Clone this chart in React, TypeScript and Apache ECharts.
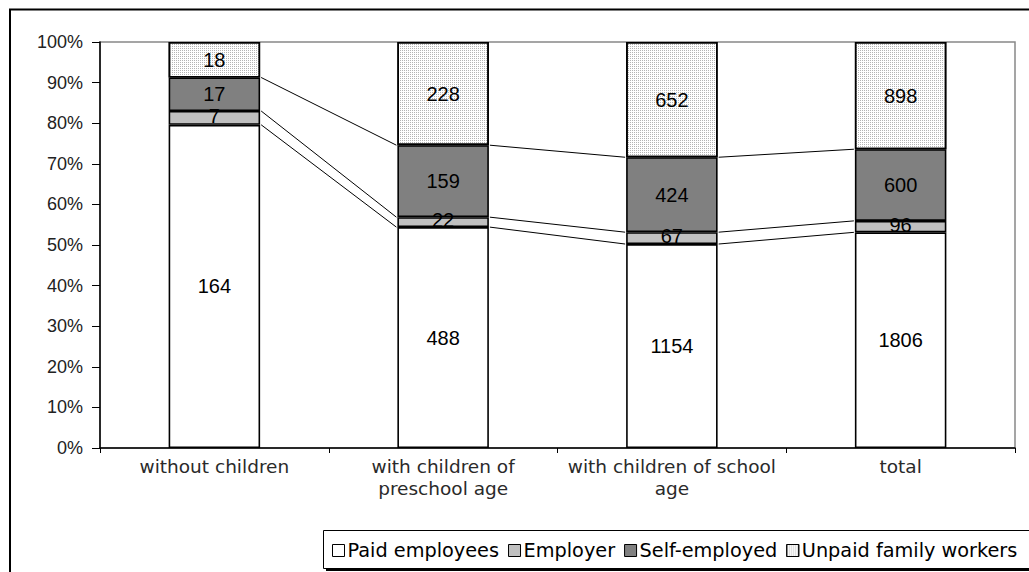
import React, { useEffect, useRef } from "react";
import * as echarts from "echarts";

const categories = [
  "without children",
  "with children of\npreschool age",
  "with children of school\nage",
  "total",
];
const seriesNames = ["Paid employees", "Employer", "Self-employed", "Unpaid family workers"];
const paidEmployees = [164, 488, 1154, 1806];
const employer = [7, 22, 67, 96];
const selfEmployed = [17, 159, 424, 600];
const unpaidFamily = [18, 228, 652, 898];

const counts = [paidEmployees, employer, selfEmployed, unpaidFamily];
const totals = categories.map((_, i) => counts.reduce((s, arr) => s + arr[i], 0));
const percents = counts.map((arr) => arr.map((v, i) => (v / totals[i]) * 100));
// cumulative tops of first three segments
const cum = [0, 1, 2].map((k) =>
  categories.map((_, i) => percents.slice(0, k + 1).reduce((s, arr) => s + arr[i], 0))
);

const fills = ["#ffffff", "#c0c0c0", "#808080", "#ffffff"];

export default function App() {
  const ref = useRef<HTMLDivElement>(null);
  useEffect(() => {
    const chart = echarts.init(ref.current!, null, { renderer: "svg" });
    const barSeries: any[] = seriesNames.map((name, s) => ({
      name,
      type: "bar",
      stack: "all",
      barWidth: "40%",
      data: percents[s],
      itemStyle: {
        color: fills[s],
        borderColor: "#000",
        borderWidth: 1.6,
        ...(s === 3
          ? {
              decal: {
                symbol: "rect",
                symbolSize: 1,
                dashArrayX: [1, 1],
                dashArrayY: [1, 1],
                color: "#b4b4b4",
                backgroundColor: "#ffffff",
                rotation: 0,
              },
            }
          : {}),
      },
      label: {
        show: s !== 1,
        position: "inside",
        fontFamily: "Liberation Sans",
        fontSize: 20,
        color: "#000",
        formatter: (p: any) => String(counts[s][p.dataIndex]),
      },
      emphasis: { disabled: true },
    }));

    const lineData = [0, 1, 2].map((i) => [
      i,
      cum[0][i],
      cum[1][i],
      cum[2][i],
      cum[0][i + 1],
      cum[1][i + 1],
      cum[2][i + 1],
    ]);

    const employerLabelData = categories.map((_, i) => [
      i,
      cum[0][i] + percents[1][i] / 2,
      employer[i],
    ]);

    const option: any = {
      animation: false,
      textStyle: { fontFamily: "Liberation Sans" },
      grid: {
        left: 100,
        right: 14,
        top: 42,
        bottom: 124,
        show: true,
        borderColor: "#888",
        borderWidth: 1.5,
      },
      xAxis: {
        type: "category",
        data: categories,
        axisLine: { lineStyle: { color: "#000", width: 1.5 } },
        axisTick: { show: true, length: 5, lineStyle: { color: "#000" } },
        axisLabel: {
          fontFamily: "DejaVu Sans",
          fontSize: 18.5,
          color: "#2a2a2a",
          lineHeight: 22,
          margin: 7,
          interval: 0,
        },
        splitLine: { show: false },
      },
      yAxis: {
        type: "value",
        min: 0,
        max: 100,
        interval: 10,
        axisLine: { show: true, lineStyle: { color: "#000", width: 1.5 } },
        axisTick: { show: true, length: 8, lineStyle: { color: "#000" } },
        axisLabel: {
          formatter: "{value}%",
          fontFamily: "Liberation Sans",
          fontSize: 18,
          color: "#222",
          margin: 17,
        },
        splitLine: { show: false },
      },
      legend: {
        data: seriesNames,
        left: 327,
        top: 536,
        icon: "rect",
        itemWidth: 12,
        itemHeight: 12,
        itemGap: 9,
        z: 10,
        itemStyle: { borderColor: "#000", borderWidth: 1 },
        textStyle: {
          fontFamily: "DejaVu Sans",
          fontSize: 19.3,
          color: "#000",
          padding: [0, 0, 0, -2],
        },
        selectedMode: false,
      },
      graphic: [
        {
          type: "rect",
          z: 0,
          shape: { x: 10, y: 9.5, width: 1100, height: 700 },
          style: { fill: "none", stroke: "#000", lineWidth: 2 },
          silent: true,
        },
        {
          type: "rect",
          z: 1,
          shape: { x: 326, y: 568, width: 800, height: 3 },
          style: { fill: "#000" },
          silent: true,
        },
        {
          type: "rect",
          z: 2,
          shape: { x: 323.5, y: 530.5, width: 800, height: 38 },
          style: { fill: "#fff", stroke: "#000", lineWidth: 1 },
          silent: true,
        },
      ],
      series: [
        ...barSeries,
        {
          type: "custom",
          silent: true,
          data: lineData,
          renderItem: (params: any, api: any) => {
            const i = api.value(0);
            const half = api.size([1, 0])[0] * 0.2;
            const children: any[] = [];
            for (let k = 0; k < 3; k++) {
              const a = api.coord([i, api.value(1 + k)]);
              const b = api.coord([i + 1, api.value(4 + k)]);
              children.push({
                type: "line",
                shape: { x1: a[0] + half + 1, y1: a[1], x2: b[0] - half - 1, y2: b[1] },
                style: { stroke: "#000", lineWidth: 1 },
              });
            }
            return { type: "group", children };
          },
        },
        {
          type: "custom",
          silent: true,
          z: 20,
          data: employerLabelData,
          renderItem: (params: any, api: any) => {
            const p = api.coord([api.value(0), api.value(1)]);
            return {
              type: "text",
              x: p[0],
              y: p[1] - 2,
              z2: 100,
              style: {
                text: String(api.value(2)),
                fontFamily: "Liberation Sans",
                fontSize: 20,
                fill: "#000",
                align: "center",
                verticalAlign: "middle",
              },
            };
          },
        },
      ],
    };
    chart.setOption(option);
    return () => chart.dispose();
  }, []);
  return (
    <div
      ref={ref}
      style={{ position: "absolute", left: 0, top: 0, width: 1029, height: 572, background: "#fff" }}
    />
  );
}
